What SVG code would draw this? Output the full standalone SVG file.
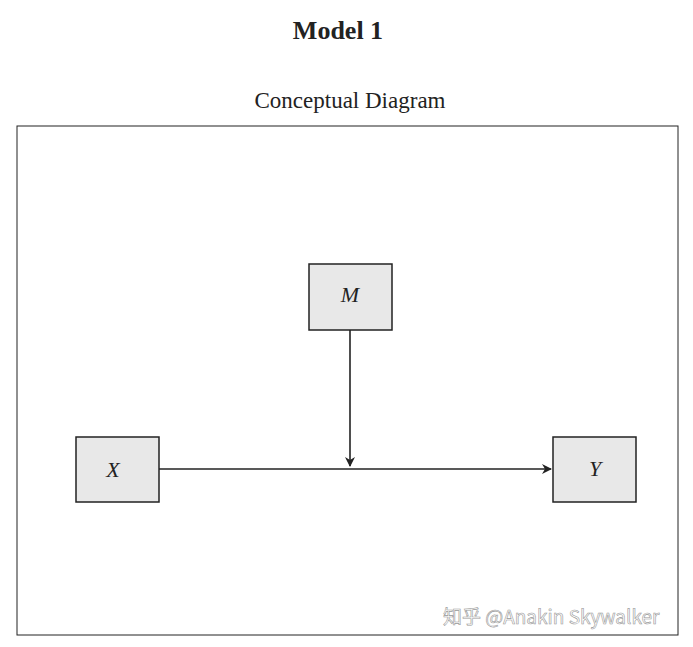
<svg xmlns="http://www.w3.org/2000/svg" width="693" height="647" viewBox="0 0 693 647">
<style>
.box{fill:#e8e8e8;stroke:#222;stroke-width:1.5}
.lbl{font-family:"Liberation Serif",serif;font-style:italic;font-size:22px;fill:#222;text-anchor:middle}
.ln{stroke:#222;stroke-width:1.6;fill:none}
</style>
<defs><marker id="ah" markerWidth="10" markerHeight="10" refX="9" refY="5" orient="auto" markerUnits="userSpaceOnUse"><path d="M0,0 L10,5 L0,10 L3,5 Z" fill="#222"/></marker></defs>
<rect width="693" height="647" fill="#fff"/>
<text x="338" y="39" font-family="Liberation Serif,serif" font-weight="bold" font-size="26" text-anchor="middle" fill="#222">Model 1</text>
<text x="350" y="108" font-family="Liberation Serif,serif" font-size="23" text-anchor="middle" fill="#222">Conceptual Diagram</text>
<rect x="17" y="126" width="661" height="509" fill="none" stroke="#222" stroke-width="1"/>
<g id="connectors">
<line class="ln" x1="159" y1="469" x2="551" y2="469" marker-end="url(#ah)"/>
<line class="ln" x1="350" y1="330" x2="350" y2="466" marker-end="url(#ah)"/>
</g>
<g id="M"><rect class="box" x="309" y="264" width="83" height="66"/><text class="lbl" x="350" y="302">M</text></g>
<g id="X"><rect class="box" x="76" y="437" width="83" height="65"/><text class="lbl" x="113" y="477">X</text></g>
<g id="Y"><rect class="box" x="553" y="437" width="83" height="65"/><text class="lbl" x="595" y="476">Y</text></g>
<text x="443" y="624" font-family="Noto Sans CJK SC,Noto Sans,sans-serif" font-size="19" fill="#fff" stroke="#999" stroke-width="0.6">知乎 @Anakin Skywalker</text>
</svg>
